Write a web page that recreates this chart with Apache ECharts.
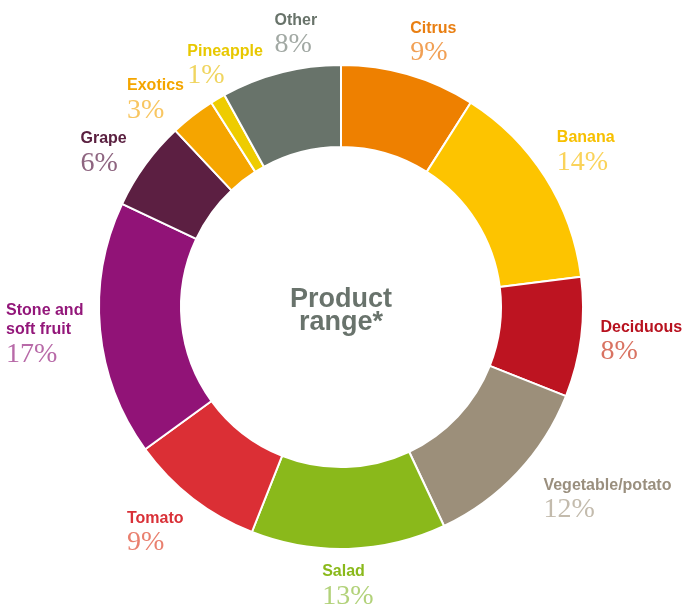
<!DOCTYPE html>
<html><head><meta charset="utf-8">
<script src="https://cdn.jsdelivr.net/npm/echarts/dist/echarts.min.js"></script>
<style>html,body{margin:0;padding:0;background:#fff}#c{width:689px;height:608px}</style>
</head><body><div id="c"></div>
<script>
const categories = ['Citrus','Banana','Deciduous','Vegetable/potato','Salad','Tomato','Stone and\nsoft fruit','Grape','Exotics','Pineapple','Other'];
const shares = [9,14,8,12,13,9,17,6,3,1,8];
const sliceColors = ['#EE8000','#FDC400','#BD1421','#9C8F7A','#8AB91B','#DB2F35','#911377','#5C1F42','#F5A500','#EECC00','#68736A'];
const nameColors = ['#E97F12','#F7C000','#B8121F','#9A8F7E','#8AB91B','#D93037','#93177A','#5A2040','#F4A500','#E8C800','#68736A'];
const pctColors = ['#F1A055','#FAD35A','#D97362','#C3BBAD','#B2D27A','#E9806F','#B86AA8','#8E6580','#F8C661','#F0D560','#A2A9A4'];
const centerTitle = 'Product\nrange*';

// label placement tweaks (gap beyond ring in px, turn in degrees)
const labelGap = [9, 11, 17, 21, 13, 14, 14, 9, 0, -11, 8];
const labelTurn = [3, 0, -0.7, -7.4, 0.4, 1.7, 0.2, -3, -4, 5, 5];

const CX = 341, CY = 307, R_IN = 160, R_OUT = 242;
const total = shares.reduce((a, b) => a + b, 0);
const cum = [];
shares.reduce((acc, v, i) => { cum[i] = acc; return acc + v; }, 0);

const chart = echarts.init(document.getElementById('c'), null, {renderer: 'canvas'});
chart.setOption({
  animation: false,
  backgroundColor: '#ffffff',
  graphic: [{
    type: 'text', x: CX, y: 311,
    style: {
      text: centerTitle, fill: '#69736C',
      font: 'bold 27px "Liberation Sans", Arial, sans-serif',
      align: 'center', verticalAlign: 'middle', lineHeight: 23
    }
  }],
  series: [{
    type: 'pie',
    center: [CX, CY],
    radius: [R_IN, R_OUT],
    startAngle: 90,
    clockwise: true,
    avoidLabelOverlap: false,
    itemStyle: {borderColor: '#ffffff', borderWidth: 2},
    labelLine: {show: false},
    emphasis: {disabled: true},
    label: {
      show: true, position: 'outside',
      formatter: function (p) {
        const lines = p.name.split('\n').map(s => '{n|' + s + '}');
        return lines.join('\n') + '\n{p|' + p.value + '%}';
      }
    },
    labelLayout: function (p) {
      const i = p.dataIndex;
      const mid = ((cum[i] + shares[i] / 2) / total) * 2 * Math.PI + labelTurn[i] * Math.PI / 180;
      const dx = Math.sin(mid), dy = -Math.cos(mid);
      const w = p.labelRect.width / 2, h = p.labelRect.height / 2;
      const d = R_OUT + labelGap[i] + Math.abs(dx) * w + Math.abs(dy) * h;
      return {x: CX + dx * d - w, y: CY + dy * d - h, align: 'left', verticalAlign: 'top'};
    },
    data: categories.map((c, i) => ({
      name: c, value: shares[i],
      itemStyle: {color: sliceColors[i]},
      label: {
        rich: {
          n: {color: nameColors[i], fontFamily: '"Liberation Sans", Arial, sans-serif', fontWeight: 'bold', fontSize: 16, lineHeight: 19, align: 'left'},
          p: {color: pctColors[i], fontFamily: '"Liberation Serif", "Times New Roman", serif', fontSize: 28, lineHeight: 30, align: 'left'}
        }
      }
    }))
  }]
});
</script></body></html>
